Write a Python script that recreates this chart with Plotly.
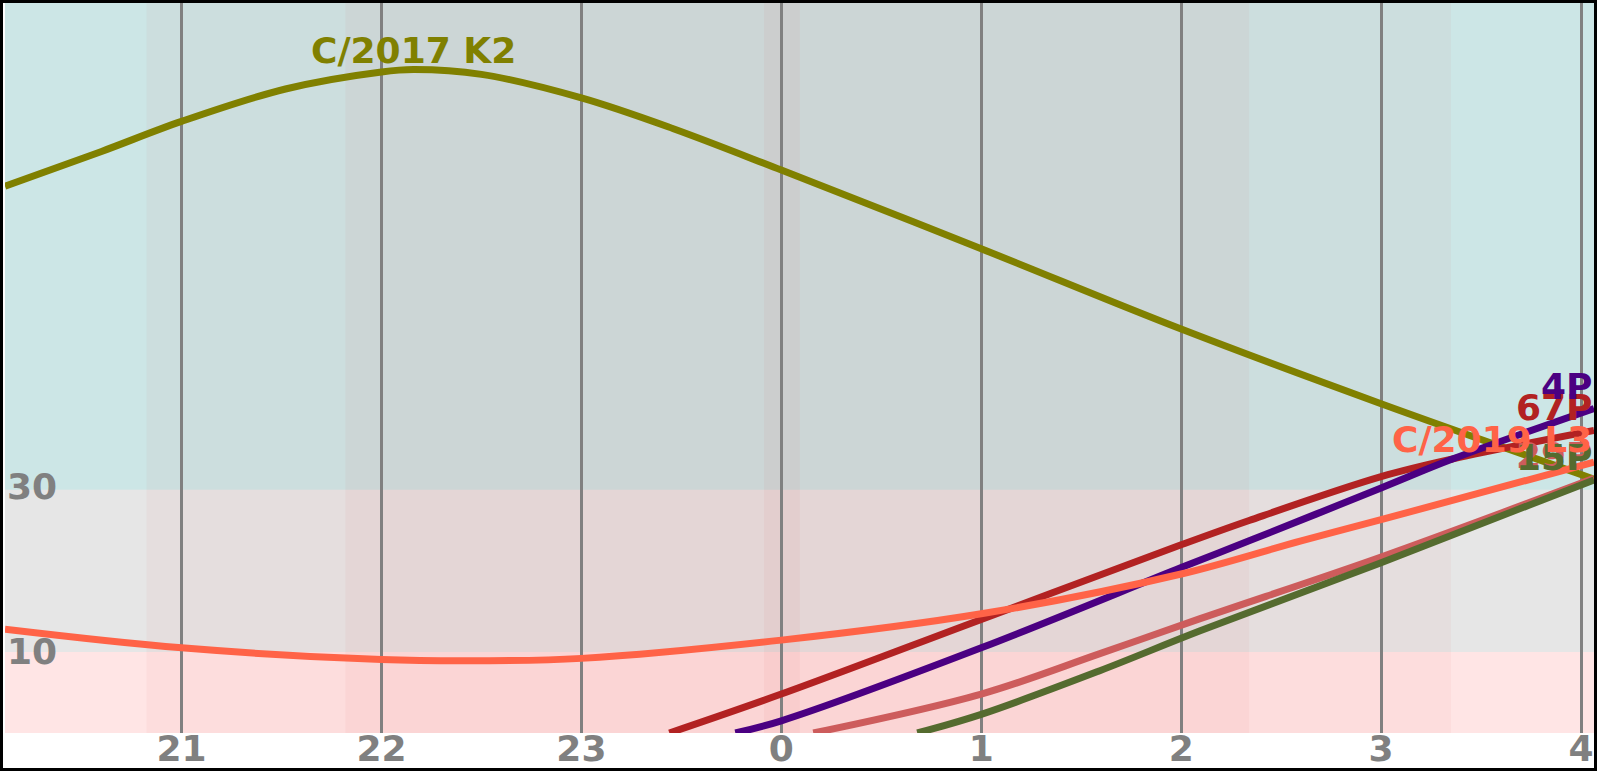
import plotly.graph_objects as go

# ---- data (hours: continuous, 24 = midnight) ----
k2_h = [20.117, 20.6, 21.0, 21.52, 22.0, 22.16, 22.5, 23.0, 23.46, 24.0, 25.0, 26.0, 27.0, 28.065]
k2_a = [67.4, 71.7, 75.4, 79.4, 81.5, 81.8, 81.2, 78.3, 74.5, 69.4, 59.7, 49.8, 40.6, 31.3]

l3_h = [20.117, 21.0, 22.0, 22.5, 23.0, 24.0, 25.0, 26.0, 26.6, 27.0, 28.065]
l3_a = [12.8, 10.5, 9.05, 8.9, 9.2, 11.45, 14.7, 19.6, 23.7, 26.3, 33.4]

p67_h = [23.44, 24.0, 25.0, 26.0, 26.34, 27.0, 27.36, 28.065]
p67_a = [0.0, 4.8, 14.0, 23.2, 26.2, 31.6, 33.8, 37.3]

p4_h = [23.77, 24.0, 25.0, 26.0, 26.34, 27.0, 27.36, 28.065]
p4_a = [0.0, 1.5, 10.5, 20.4, 23.7, 30.2, 33.8, 40.0]

p29_h = [24.16, 25.0, 25.59, 26.095, 27.0, 28.065]
p29_a = [0.0, 4.8, 9.75, 14.1, 21.7, 31.4]

p15_h = [24.68, 25.0, 25.59, 26.095, 27.0, 28.065]
p15_a = [0.0, 2.3, 7.65, 12.6, 21.0, 31.2]

tick_vals = [21, 22, 23, 24, 25, 26, 27, 28]
tick_text = ["21", "22", "23", "0", "1", "2", "3", "4"]

# twilight / night bands (hours)
night_bands = [(20.825, 27.35), (21.82, 26.34), (23.913, 24.093)]
# altitude zones
alt_zones = [(30, 90, "rgba(0,128,128,0.2)"), (10, 30, "rgba(128,128,128,0.2)"), (0, 10, "rgba(255,0,0,0.1)")]

comets = [
    ("C/2017 K2", k2_h, k2_a, "#808000", "peak"),
    ("67P", p67_h, p67_a, "#B22222", "end"),
    ("4P", p4_h, p4_a, "#4B0082", "end"),
    ("29P", p29_h, p29_a, "#CD5C5C", "end"),
    ("15P", p15_h, p15_a, "#556B2F", "end"),
    ("C/2019 L3", l3_h, l3_a, "#FF6347", "end"),
]

XR = [20.117, 28.065]
YR = [0, 90]
FONT = "DejaVu Sans, Verdana, sans-serif"

fig = go.Figure()
shapes = []
for y0, y1, c in alt_zones:
    shapes.append(dict(type="rect", xref="x", yref="y", x0=XR[0], x1=XR[1], y0=y0, y1=y1,
                       fillcolor=c, line=dict(width=0), layer="below"))
for x0, x1 in night_bands:
    shapes.append(dict(type="rect", xref="x", yref="y", x0=x0, x1=x1, y0=YR[0], y1=YR[1],
                       fillcolor="rgba(210,20,20,0.04)", line=dict(width=0), layer="below"))

annotations = []
for name, hs, al, col, where in comets:
    fig.add_trace(go.Scatter(x=hs, y=al, mode="lines", name=name,
                             line=dict(color=col, width=7, shape="spline", smoothing=1.0),
                             hoverinfo="skip", showlegend=False, cliponaxis=True))
    if where == "peak":
        i = al.index(max(al))
        annotations.append(dict(x=hs[i], y=al[i], text=name, showarrow=False, xanchor="center",
                                yanchor="bottom", yshift=-3,
                                font=dict(family=FONT, size=36, color=col, weight="bold")))
    else:
        annotations.append(dict(x=hs[-1], y=al[-1], text=name, showarrow=False, xanchor="right",
                                yanchor="bottom", font=dict(family=FONT, size=36, color=col, weight="bold")))

for v, ys in ((30, 3), (10, 0)):
    annotations.append(dict(xref="paper", x=0, y=v, text=str(v), showarrow=False, xanchor="left",
                            yanchor="middle", yshift=ys,
                            font=dict(family=FONT, size=36, color="#808080", weight="bold")))

# figure border (pixel layout of a 1600x771 canvas)
L, R, T, B = 5, 6, 3, 38
W, H = 1600, 771
pw, ph = W - L - R, H - T - B
def px2paper_x(px):
    return (px - L) / pw
def px2paper_y(py):
    return (H - B - py) / ph
shapes.append(dict(type="rect", xref="paper", yref="paper",
                   x0=px2paper_x(1.5), x1=px2paper_x(1595.5), y0=px2paper_y(769.5), y1=px2paper_y(1.5),
                   line=dict(color="black", width=3), fillcolor="rgba(0,0,0,0)", layer="above"))

fig.update_layout(
    autosize=False,
    width=W, height=H + 11, margin=dict(l=L, r=R, t=T, b=B + 11, pad=0),
    paper_bgcolor="white", plot_bgcolor="white",
    shapes=shapes, annotations=annotations, showlegend=False,
    xaxis=dict(range=XR, tickvals=tick_vals, ticktext=tick_text, showgrid=True,
               gridcolor="#808080", gridwidth=3, zeroline=False, showline=False, ticks="",
               ticklabelstandoff=-9,
               tickfont=dict(family=FONT, size=36, color="#808080", weight="bold")),
    yaxis=dict(range=YR, showgrid=False, zeroline=False, showticklabels=False, showline=False, ticks=""),
)

fig.write_html("out.html", config={"displayModeBar": False, "responsive": False},
               post_script=("document.body.style.margin='0';document.body.style.padding='0';"
                            "document.documentElement.style.overflow='hidden';"
                            "document.body.style.overflow='hidden';"))
